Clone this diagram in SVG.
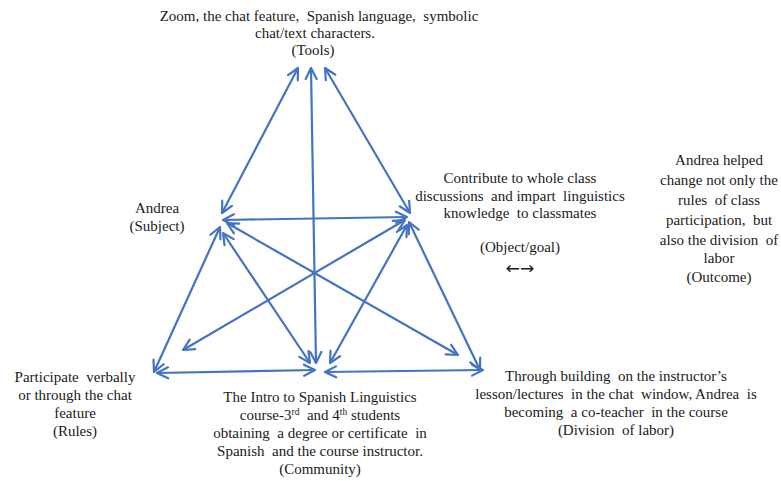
<svg xmlns="http://www.w3.org/2000/svg" width="781" height="481" viewBox="0 0 781 481">
<style>
text{font-family:"Liberation Serif","Times New Roman",serif;font-size:15px;fill:#1a1a1a;text-anchor:middle;white-space:pre}
.c line{stroke:#4472C4;stroke-width:2.2;marker-start:url(#ah);marker-end:url(#ah)}
.sup{font-size:9.5px}
</style>
<defs>
<marker id="ah" viewBox="0 0 14 14" refX="12.5" refY="7" markerWidth="14" markerHeight="14" markerUnits="userSpaceOnUse" orient="auto-start-reverse">
<path d="M1.5,1.5 L12.5,7 L1.5,12.5" fill="none" stroke="#4472C4" stroke-width="2.2" stroke-linecap="round" stroke-linejoin="round"/>
</marker>
</defs>
<rect width="781" height="481" fill="#ffffff"/>
<g id="connectors" class="c">
<line x1="298" y1="68" x2="222" y2="213"/>
<line x1="311" y1="68" x2="316" y2="363"/>
<line x1="325" y1="68" x2="410" y2="213"/>
<line x1="223" y1="220" x2="407" y2="217"/>
<line x1="220" y1="227" x2="154" y2="372"/>
<line x1="223" y1="233" x2="310" y2="363"/>
<line x1="227" y1="223" x2="458" y2="355"/>
<line x1="405" y1="220" x2="183" y2="350"/>
<line x1="407" y1="225" x2="330" y2="363"/>
<line x1="409" y1="222" x2="480" y2="370"/>
<line x1="157" y1="373" x2="315" y2="370"/>
<line x1="325" y1="372" x2="483" y2="370"/>
</g>
<g id="tools">
<text x="319" y="21">Zoom, the chat feature,  Spanish language,  symbolic</text>
<text x="315" y="38">chat/text characters.</text>
<text x="313" y="55">(Tools)</text>
</g>
<g id="subject">
<text x="157" y="213">Andrea</text>
<text x="157" y="231">(Subject)</text>
</g>
<g id="object">
<text x="520" y="183">Contribute to whole class</text>
<text x="520" y="201">discussions  and impart  linguistics</text>
<text x="520" y="218">knowledge  to classmates</text>
<text x="520" y="252">(Object/goal)</text>
<text x="520" y="274" style="font-family:'DejaVu Sans',sans-serif;font-size:17px">←→</text>
</g>
<g id="outcome">
<text x="719" y="165">Andrea helped</text>
<text x="719" y="185">change not only the</text>
<text x="719" y="205">rules  of class</text>
<text x="719" y="225">participation,  but</text>
<text x="719" y="245">also the division  of</text>
<text x="719" y="263">labor</text>
<text x="719" y="282">(Outcome)</text>
</g>
<g id="rules">
<text x="75" y="382">Participate  verbally</text>
<text x="75" y="400">or through the chat</text>
<text x="75" y="418">feature</text>
<text x="75" y="436">(Rules)</text>
</g>
<g id="community">
<text x="320" y="402">The Intro to Spanish Linguistics</text>
<text x="320" y="420">course-3<tspan class="sup" dy="-5">rd</tspan><tspan dy="5">  and 4</tspan><tspan class="sup" dy="-5">th</tspan><tspan dy="5"> students</tspan></text>
<text x="320" y="438">obtaining  a degree or certificate  in</text>
<text x="320" y="456">Spanish  and the course instructor.</text>
<text x="320" y="474">(Community)</text>
</g>
<g id="division">
<text x="616" y="381">Through building  on the instructor’s</text>
<text x="616" y="399">lesson/lectures  in the chat  window, Andrea  is</text>
<text x="616" y="417">becoming  a co-teacher  in the course</text>
<text x="616" y="435">(Division  of labor)</text>
</g>
</svg>
